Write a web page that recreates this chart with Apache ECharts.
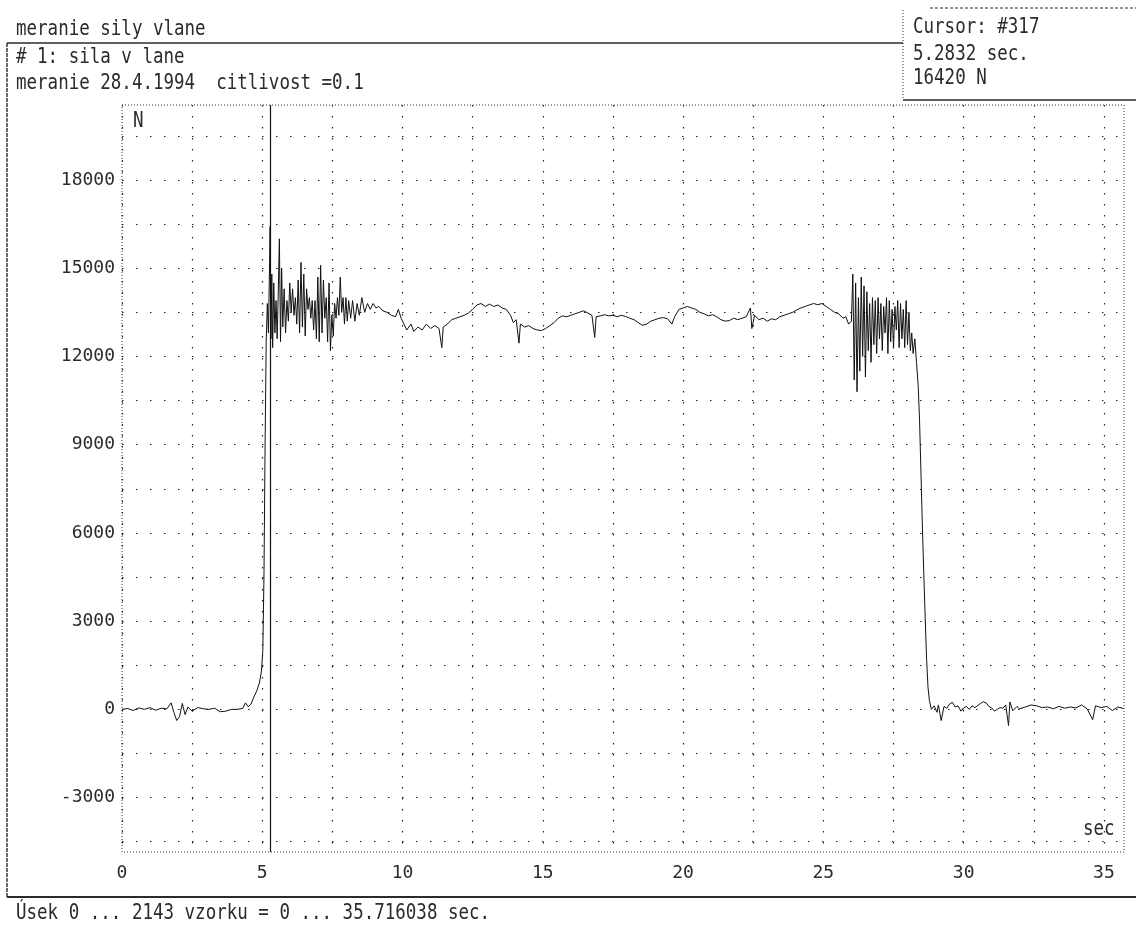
<!DOCTYPE html>
<html><head><meta charset="utf-8">
<script src="https://cdn.jsdelivr.net/npm/echarts@6/dist/echarts.min.js"></script>
<style>html,body{margin:0;padding:0;background:#fff}#c{width:1136px;height:926px}</style>
</head><body><div id="c"></div>
<script>
// ---- data ----
const timeSec = [
 0,0.2,0.4,0.6,0.8,1.0,1.2,1.4,1.6,1.75,1.85,1.95,2.05,2.15,2.25,2.35,2.5,2.7,2.9,3.1,3.3,3.5,3.7,3.9,4.1,4.3,4.4,4.5,4.6,4.7,4.8,4.9,4.97,5.02,5.06,5.1,5.14,5.18,5.22,5.26,5.28,5.31,5.34,5.37,5.41,5.45,5.49,5.53,5.57,5.61,5.65,5.69,5.73,5.78,5.83,5.88,5.93,5.98,6.03,6.08,6.13,6.18,6.23,6.28,6.33,6.38,6.43,6.48,6.53,6.58,6.63,6.68,6.73,6.78,6.83,6.88,6.93,6.98,7.03,7.08,7.13,7.18,7.23,7.28,7.33,7.38,7.43,7.48,7.53,7.58,7.63,7.68,7.73,7.78,7.83,7.88,7.93,7.98,8.03,8.08,8.15,8.22,8.3,8.38,8.46,8.55,8.65,8.75,8.85,8.95,9.05,9.15,9.3,9.45,9.6,9.75,9.85,9.95,10.05,10.15,10.3,10.4,10.55,10.7,10.85,11.0,11.15,11.3,11.4,11.45,11.6,11.75,11.9,12.05,12.2,12.35,12.5,12.65,12.8,12.95,13.1,13.25,13.4,13.55,13.7,13.85,13.95,14.05,14.15,14.2,14.35,14.5,14.65,14.8,14.95,15.1,15.25,15.4,15.55,15.7,15.85,16.0,16.15,16.3,16.45,16.6,16.75,16.85,16.9,17.05,17.2,17.35,17.5,17.65,17.8,17.95,18.1,18.25,18.4,18.55,18.7,18.85,19.0,19.15,19.3,19.45,19.6,19.7,19.85,20.0,20.15,20.3,20.45,20.6,20.75,20.9,21.05,21.2,21.35,21.5,21.65,21.8,21.95,22.1,22.25,22.4,22.45,22.55,22.7,22.85,23.0,23.15,23.3,23.45,23.6,23.75,23.9,24.05,24.2,24.35,24.5,24.65,24.8,24.95,25.1,25.25,25.4,25.55,25.7,25.8,25.9,26.0,26.05,26.1,26.15,26.2,26.25,26.3,26.35,26.4,26.45,26.5,26.55,26.6,26.65,26.7,26.75,26.8,26.85,26.9,26.95,27.0,27.05,27.1,27.15,27.2,27.25,27.3,27.35,27.4,27.45,27.5,27.55,27.6,27.65,27.7,27.75,27.8,27.85,27.9,27.95,28.0,28.05,28.1,28.15,28.2,28.26,28.32,28.38,28.43,28.48,28.53,28.58,28.63,28.68,28.73,28.78,28.85,28.95,29.05,29.1,29.2,29.3,29.4,29.5,29.6,29.7,29.8,29.9,30.0,30.1,30.2,30.3,30.4,30.6,30.7,30.8,30.9,31.0,31.1,31.2,31.3,31.4,31.5,31.55,31.6,31.65,31.75,31.9,32.0,32.2,32.4,32.6,32.8,33.0,33.2,33.4,33.6,33.8,34.0,34.2,34.4,34.6,34.7,34.9,35.1,35.3,35.5,35.7
];
const forceN = [
 0,30,-40,50,0,60,-30,40,20,220,-100,-380,-250,200,-180,80,-60,60,20,0,40,-80,-60,0,0,30,220,90,180,420,620,900,1300,2000,4500,9000,12500,13800,12800,15200,16420,12600,14800,12300,14500,12800,13900,12600,14200,16000,12500,15000,13000,14300,12800,13900,13200,14500,13500,14300,13400,14000,13100,14600,12800,15200,13000,14800,12700,14300,13600,14000,13300,13900,12900,13900,12600,14700,12500,15100,12800,14600,13300,14000,12500,14500,12200,13400,12700,13800,13300,14000,13400,14700,13500,14000,13100,14000,13200,13900,13300,13900,13200,13800,13400,14000,13500,13800,13600,13800,13650,13700,13550,13500,13400,13350,13600,13300,13100,12900,13100,12850,13000,12900,13100,12950,13050,12950,12300,13000,13100,13250,13300,13350,13400,13480,13600,13750,13800,13700,13780,13700,13750,13650,13600,13400,13150,13250,12450,13100,13000,13050,12950,12900,12880,12950,13050,13150,13300,13380,13350,13400,13450,13500,13550,13480,13400,12650,13350,13380,13420,13380,13400,13350,13400,13360,13300,13250,13150,13060,13100,13200,13250,13300,13320,13280,13100,13350,13600,13650,13700,13650,13600,13500,13450,13380,13420,13350,13250,13200,13220,13300,13250,13300,13350,13650,12950,13400,13250,13300,13200,13280,13250,13350,13400,13450,13500,13580,13650,13700,13750,13800,13760,13800,13700,13600,13500,13450,13300,13350,13100,13200,14800,11200,14500,10800,14000,11500,14700,12000,14400,11300,14200,12200,13800,11800,14000,12400,13900,12100,14000,12600,13800,12200,13700,12800,14000,12100,13900,12500,13600,12300,13700,12900,13900,12300,13800,12600,13600,12300,13900,12400,13500,12200,12800,12100,12600,11800,11000,9800,8000,6200,4600,3100,1700,750,300,0,120,-100,150,-380,100,40,180,240,80,120,-60,50,100,0,120,60,200,260,220,100,50,-60,0,60,40,150,-200,-550,250,-50,100,20,80,150,120,60,80,20,100,40,80,50,150,20,-350,120,60,100,-40,80,30
];
const xGridValues = [0,2.5,5,7.5,10,12.5,15,17.5,20,22.5,25,27.5,30,32.5,35];
const xLabelValues = [0,5,10,15,20,25,30,35];
const yGridValues = [-4500,-3000,-1500,0,1500,3000,4500,6000,7500,9000,10500,12000,13500,15000,16500,18000,19500];
const yLabelValues = [-3000,0,3000,6000,9000,12000,15000,18000];
const xRange = [0, 35.716038];
const yRange = [-4850, 20550];
const sampleCount = 2143;
const cursorIndex = 317;
const cursorTime = 5.2832;
const cursorForce = 16420;

const FONT = 'DejaVu Sans Mono';
const ink = '#2b2b2b';
const points = timeSec.map((t, i) => [t, forceN[i]]);

function txt(x, y, s, extra) {
  return Object.assign({
    type: 'text', x: x, y: y, scaleY: 1.22, silent: true,
    style: { text: s, fontFamily: FONT, fontSize: 17.5, fill: ink, verticalAlign: 'top' }
  }, extra || {});
}
function ln(x1, y1, x2, y2, w, dash) {
  return { type: 'line', silent: true, shape: { x1, y1, x2, y2 },
    style: { stroke: ink, lineWidth: w, lineDash: dash || null } };
}

const chart = echarts.init(document.getElementById('c'), null, { renderer: 'canvas' });
chart.setOption({
  animation: false,
  backgroundColor: '#fff',
  grid: { left: 122, right: 12, top: 105, bottom: 74, show: true,
    borderColor: '#333', borderWidth: 1, borderType: [1, 2], containLabel: false },
  xAxis: {
    type: 'value', min: xRange[0], max: xRange[1],
    axisLine: { show: false }, axisTick: { show: false, customValues: xGridValues },
    axisLabel: { customValues: xLabelValues, margin: 12, fontFamily: FONT, fontSize: 18, color: ink,
      formatter: v => String(v) },
    splitLine: { show: true, lineStyle: { color: '#222', width: 1.2, type: [1.5, 9.5] } }
  },
  yAxis: {
    type: 'value', min: yRange[0], max: yRange[1],
    axisLine: { show: false }, axisTick: { show: false, customValues: yGridValues },
    axisLabel: { customValues: yLabelValues, margin: 7, fontFamily: FONT, fontSize: 18, color: ink,
      formatter: v => String(v) },
    splitLine: { show: true, lineStyle: { color: '#222', width: 1.2, type: [1.5, 12.5] } }
  },
  series: [{
    type: 'line', data: points, showSymbol: false, symbol: 'none',
    lineStyle: { color: '#111', width: 1 }, z: 3,
    markLine: {
      silent: true, symbol: ['none', 'none'], label: { show: false },
      lineStyle: { color: '#111', width: 1.2, type: 'solid' },
      data: [{ xAxis: cursorTime }]
    }
  }],
  graphic: [
    txt(16, 18, 'meranie sily vlane'),
    ln(7, 43, 903, 43, 1.6),
    txt(16, 46, '# 1: sila v lane'),
    txt(16, 72, 'meranie 28.4.1994  citlivost =0.1'),
    ln(903, 10, 903, 100, 1, [1, 2]),
    ln(930, 8, 1136, 8, 1, [3, 2]),
    ln(903, 100, 1136, 100, 1.4),
    txt(913, 16, 'Cursor: #' + cursorIndex),
    txt(913, 43, cursorTime.toFixed(4) + ' sec.'),
    txt(913, 67, cursorForce + ' N'),
    ln(7, 43, 7, 897, 1.4, [4, 1]),
    ln(7, 897, 1136, 897, 2),
    txt(16, 902, 'Úsek 0 ... ' + sampleCount + ' vzorku = 0 ... ' + xRange[1].toFixed(6) + ' sec.'),
    txt(133, 110, 'N'),
    txt(1083, 818, 'sec')
  ]
});
</script></body></html>
